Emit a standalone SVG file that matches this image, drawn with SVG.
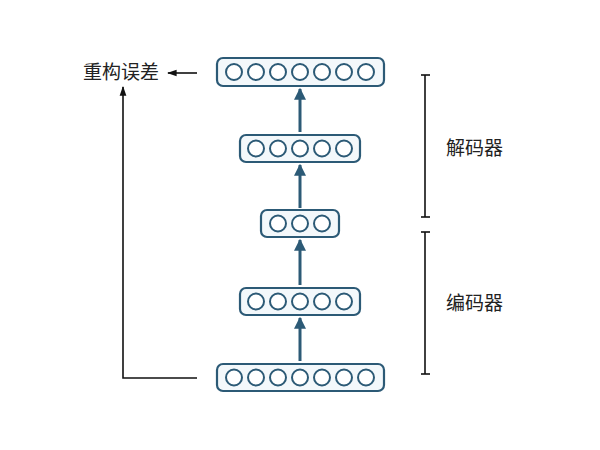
<svg xmlns="http://www.w3.org/2000/svg" width="600" height="450" viewBox="0 0 600 450">
<style>
.layer{fill:#f3f8fb;stroke:#2c5a76;stroke-width:2.2}
.unit{fill:#ffffff;stroke:#2c5a76;stroke-width:2}
.flow{stroke:#2c5a76;stroke-width:3;fill:none}
.line{stroke:#111;stroke-width:1.6;fill:none}
.lbl{font-family:"Noto Sans CJK SC","Noto Sans",sans-serif;font-size:19px;fill:#222}
</style>
<defs>
<marker id="ah" viewBox="0 0 10 10" refX="9" refY="5" markerWidth="4.2" markerHeight="4" orient="auto" markerUnits="strokeWidth">
<path d="M0,0 L10,5 L0,10 Z" fill="#2c5a76"/>
</marker>
<marker id="bh" viewBox="0 0 10 10" refX="9" refY="5" markerWidth="6" markerHeight="6" orient="auto" markerUnits="strokeWidth">
<path d="M0,1.5 L10,5 L0,8.5 Z" fill="#111"/>
</marker>
</defs>
<rect width="600" height="450" fill="#ffffff"/>
<g id="out7">
<rect class="layer" x="217" y="58" width="167" height="28" rx="6"/>
<circle class="unit" cx="234" cy="72" r="8"/><circle class="unit" cx="256" cy="72" r="8"/><circle class="unit" cx="278" cy="72" r="8"/><circle class="unit" cx="300" cy="72" r="8"/><circle class="unit" cx="322" cy="72" r="8"/><circle class="unit" cx="344" cy="72" r="8"/><circle class="unit" cx="366" cy="72" r="8"/>
</g>
<g id="dec5">
<rect class="layer" x="240" y="135" width="120" height="27" rx="6"/>
<circle class="unit" cx="256" cy="148.5" r="8"/><circle class="unit" cx="278" cy="148.5" r="8"/><circle class="unit" cx="300" cy="148.5" r="8"/><circle class="unit" cx="322" cy="148.5" r="8"/><circle class="unit" cx="344" cy="148.5" r="8"/>
</g>
<g id="code3">
<rect class="layer" x="261" y="210" width="78" height="27" rx="6"/>
<circle class="unit" cx="278" cy="223.5" r="8"/><circle class="unit" cx="300" cy="223.5" r="8"/><circle class="unit" cx="322" cy="223.5" r="8"/>
</g>
<g id="enc5">
<rect class="layer" x="240" y="288" width="120" height="27" rx="6"/>
<circle class="unit" cx="256" cy="301.5" r="8"/><circle class="unit" cx="278" cy="301.5" r="8"/><circle class="unit" cx="300" cy="301.5" r="8"/><circle class="unit" cx="322" cy="301.5" r="8"/><circle class="unit" cx="344" cy="301.5" r="8"/>
</g>
<g id="in7">
<rect class="layer" x="217" y="364" width="167" height="27" rx="6"/>
<circle class="unit" cx="234" cy="377.5" r="8"/><circle class="unit" cx="256" cy="377.5" r="8"/><circle class="unit" cx="278" cy="377.5" r="8"/><circle class="unit" cx="300" cy="377.5" r="8"/><circle class="unit" cx="322" cy="377.5" r="8"/><circle class="unit" cx="344" cy="377.5" r="8"/><circle class="unit" cx="366" cy="377.5" r="8"/>
</g>
<g id="connectors">
<line class="flow" x1="300" y1="132" x2="300" y2="89" marker-end="url(#ah)"/>
<line class="flow" x1="300" y1="208" x2="300" y2="165" marker-end="url(#ah)"/>
<line class="flow" x1="300" y1="285" x2="300" y2="240" marker-end="url(#ah)"/>
<line class="flow" x1="300" y1="361" x2="300" y2="318" marker-end="url(#ah)"/>
<polyline class="line" points="197,378 123,378 123,87" marker-end="url(#bh)"/>
<line class="line" x1="197" y1="73" x2="168" y2="73" marker-end="url(#bh)"/>
</g>
<g id="brackets">
<line class="line" x1="425" y1="75" x2="425" y2="217"/>
<line class="line" x1="421" y1="75" x2="430" y2="75"/>
<line class="line" x1="421" y1="217" x2="430" y2="217"/>
<line class="line" x1="425" y1="232" x2="425" y2="374"/>
<line class="line" x1="421" y1="232" x2="430" y2="232"/>
<line class="line" x1="421" y1="374" x2="430" y2="374"/>
</g>
<g id="labels">
<text class="lbl" x="83" y="79">重构误差</text>
<text class="lbl" x="446" y="155">解码器</text>
<text class="lbl" x="446" y="310">编码器</text>
</g>
</svg>
